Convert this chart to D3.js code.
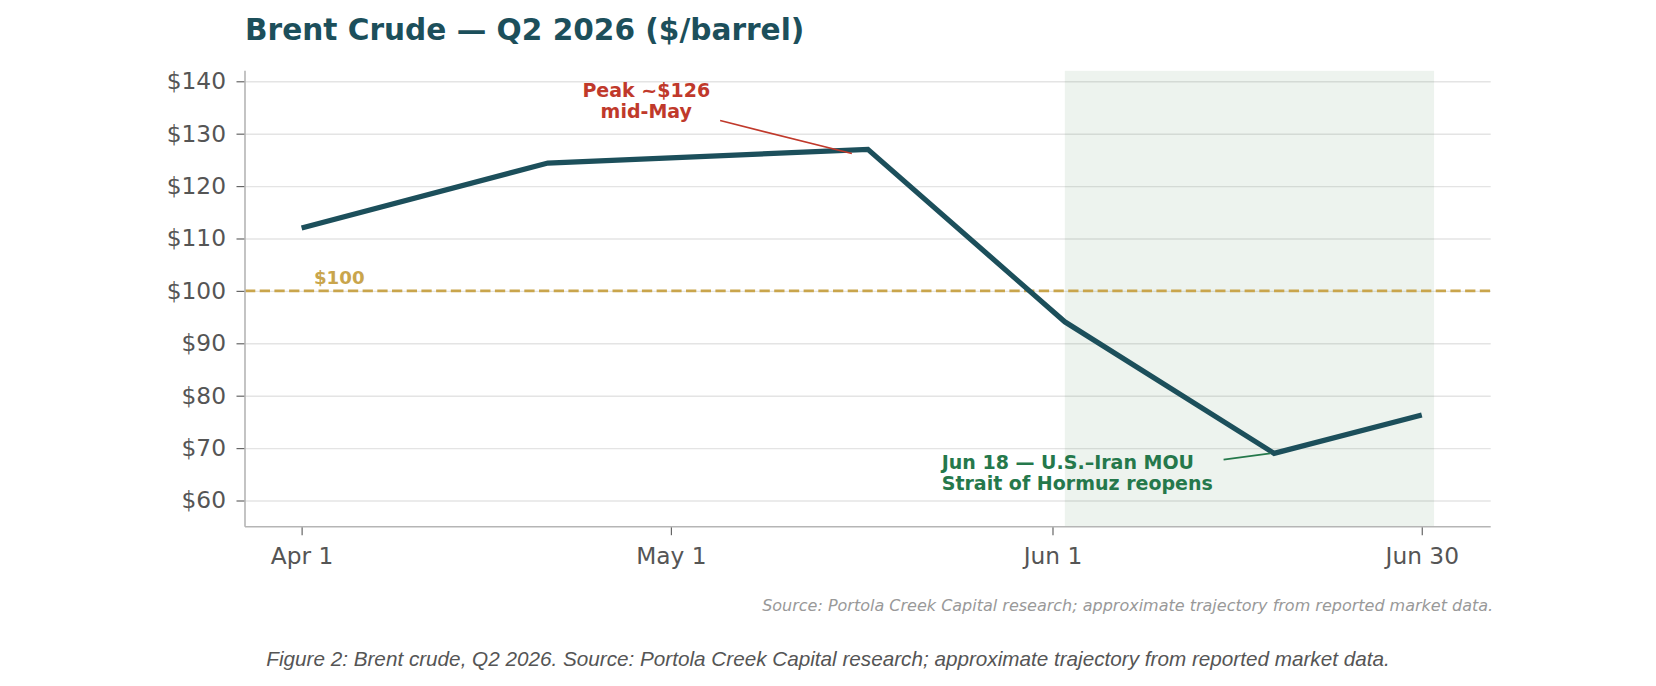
<!DOCTYPE html>
<html>
<head>
<meta charset="utf-8">
<script src="https://cdn.jsdelivr.net/npm/d3@7"></script>
<style>
  body { margin: 0; background: #fff; }
  svg { display: block; font-family: "DejaVu Sans", sans-serif; }
</style>
</head>
<body>
<div id="app"></div>
<script>
/* global d3 */

// Data (days counted from Apr 1)
const days = [0, 20, 46, 62, 79, 91];
const prices = [112, 124.4, 127, 94.1, 69, 76.3];
const tickDays = [0, 30, 61, 91];
const tickLabels = ['Apr 1', 'May 1', 'Jun 1', 'Jun 30'];
const yTicks = [60, 70, 80, 90, 100, 110, 120, 130, 140];
const shadeDays = [62, 92];
const refLevel = 100;
const peakLines = ['Peak ~$126', 'mid-May'];
const peakText = [28, 135];
const peakArrow = [[34, 132.5], [44.7, 126.2]];
const mouLines = ['Jun 18 \u2014 U.S.\u2013Iran MOU', 'Strait of Hormuz reopens'];
const mouText = [52, 64];
const mouArrow = [[74.9, 67.8], [78.7, 69]];

// Constants
const width = 1656;
const height = 686;
const margin = ({
  top: 70.8,
  right: 165.3,
  bottom: 159.3,
  left: 245,
});
const plotWidth = width - margin.left - margin.right;
const plotHeight = height - margin.top - margin.bottom;

const lineColor = '#1c4f5b';
const red = '#c0392b';
const green = '#25784b';
const gold = '#c9a54c';

// x limits: data + shaded span, padded 5%
const xMin = Math.min(days[0], shadeDays[0]);
const xMax = Math.max(days[days.length - 1], shadeDays[1]);
const xPad = (xMax - xMin) * 0.05;
const xScale = d3.scaleLinear()
  .domain([xMin - xPad, xMax + xPad])
  .range([0, plotWidth]);
const yScale = d3.scaleLinear()
  .domain([55, 142])
  .range([plotHeight, 0]);

const svg = d3.select('#app')
  .append('svg')
  .attr('width', width)
  .attr('height', height);

const plot = svg.append('g')
  .attr('transform', `translate(${margin.left}, ${margin.top})`);

// Grid
plot.append('g')
  .attr('class', 'grid')
  .call(d3.axisLeft(yScale).tickValues(yTicks).tickSize(-plotWidth).tickFormat(''))
  .call((g) => g.select('.domain').remove())
  .call((g) => g.selectAll('line').attr('stroke', '#e4e4e4').attr('stroke-width', 1.4));

// Shaded span
plot.append('rect')
  .attr('x', xScale(shadeDays[0]))
  .attr('y', 0)
  .attr('width', xScale(shadeDays[1]) - xScale(shadeDays[0]))
  .attr('height', plotHeight)
  .attr('fill', '#3a7d44')
  .attr('fill-opacity', 0.09);

// $100 reference
plot.append('line')
  .attr('x1', 0)
  .attr('x2', plotWidth)
  .attr('y1', yScale(refLevel))
  .attr('y2', yScale(refLevel))
  .attr('stroke', gold)
  .attr('stroke-width', 2.8)
  .attr('stroke-dasharray', '10.3 4.4');
plot.append('text')
  .attr('x', xScale(1))
  .attr('y', yScale(101.4))
  .attr('fill', gold)
  .attr('font-weight', 'bold')
  .attr('font-size', 18.2)
  .text(`$${refLevel}`);

// Price line
const line = d3.line()
  .x((d, i) => xScale(days[i]))
  .y((d) => yScale(d));
plot.append('path')
  .datum(prices)
  .attr('d', line)
  .attr('fill', 'none')
  .attr('stroke', lineColor)
  .attr('stroke-width', 5.2)
  .attr('stroke-linejoin', 'miter');

// Annotations
function annotate(lines, at, arrow, color, anchor) {
  plot.append('line')
    .attr('x1', xScale(arrow[0][0]))
    .attr('y1', yScale(arrow[0][1]))
    .attr('x2', xScale(arrow[1][0]))
    .attr('y2', yScale(arrow[1][1]))
    .attr('stroke', color)
    .attr('stroke-width', 1.6);
  const t = plot.append('text')
    .attr('fill', color)
    .attr('font-weight', 'bold')
    .attr('font-size', 19)
    .attr('text-anchor', anchor);
  lines.forEach((s, i) => {
    t.append('tspan')
      .attr('x', xScale(at[0]))
      .attr('y', yScale(at[1]) + (i - 0.5) * 21.8)
      .text(s);
  });
}
annotate(peakLines, peakText, peakArrow, red, 'middle');
annotate(mouLines, mouText, mouArrow, green, 'start');

// Axes
const xAxis = plot.append('g')
  .attr('transform', `translate(0, ${plotHeight})`)
  .call(d3.axisBottom(xScale)
    .tickValues(tickDays)
    .tickFormat((d, i) => tickLabels[i])
    .tickSize(8.5)
    .tickPadding(12));
const yAxis = plot.append('g')
  .call(d3.axisLeft(yScale)
    .tickValues(yTicks)
    .tickFormat((d) => `$${d}`)
    .tickSize(8.5)
    .tickPadding(10.5));
[xAxis, yAxis].forEach((g) => {
  g.select('.domain').remove();
  g.selectAll('line').attr('stroke', '#666').attr('stroke-width', 1.2);
  g.selectAll('text')
    .attr('fill', '#555')
    .attr('font-size', 23.3)
    .attr('font-family', '"DejaVu Sans", sans-serif');
});
// Spines
plot.append('line')
  .attr('x1', 0).attr('x2', 0)
  .attr('y1', 0).attr('y2', plotHeight)
  .attr('stroke', '#b5b5b5').attr('stroke-width', 1.6);
plot.append('line')
  .attr('x1', 0).attr('x2', plotWidth)
  .attr('y1', plotHeight).attr('y2', plotHeight)
  .attr('stroke', '#b5b5b5').attr('stroke-width', 1.6);

// Title
svg.append('text')
  .attr('x', margin.left)
  .attr('y', 40)
  .attr('fill', '#1c4f5b')
  .attr('font-weight', 'bold')
  .attr('font-size', 29.6)
  .text('Brent Crude \u2014 Q2 2026 ($/barrel)');

// Source note
svg.append('text')
  .attr('x', margin.left + plotWidth + 2.5)
  .attr('y', 610.7)
  .attr('text-anchor', 'end')
  .attr('fill', '#999')
  .attr('font-style', 'italic')
  .attr('font-size', 16)
  .text('Source: Portola Creek Capital research; approximate trajectory from reported market data.');

// Caption
svg.append('text')
  .attr('x', width / 2)
  .attr('y', 665.5)
  .attr('text-anchor', 'middle')
  .attr('fill', '#555')
  .attr('font-style', 'italic')
  .attr('font-size', 20.7)
  .attr('font-family', '"Liberation Sans", Arial, sans-serif')
  .text('Figure 2: Brent crude, Q2 2026. Source: Portola Creek Capital research; approximate trajectory from reported market data.');
</script>
</body>
</html>
